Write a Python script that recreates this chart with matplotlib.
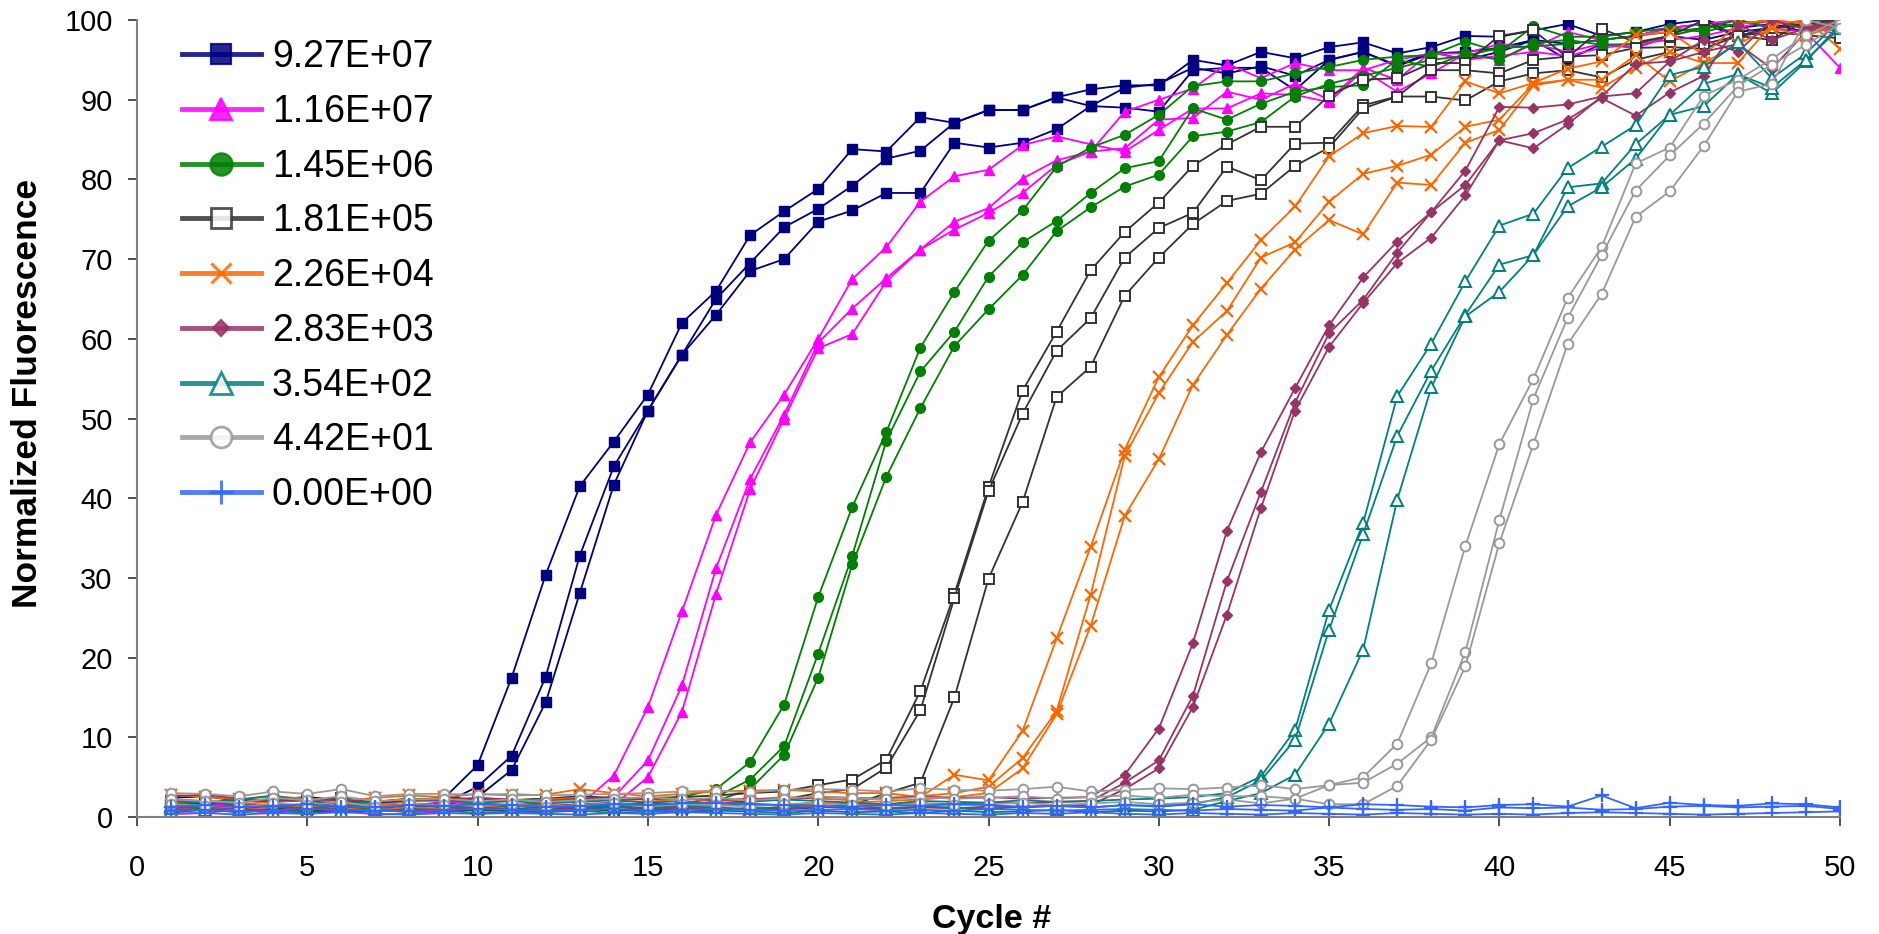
"""qPCR amplification curves, normalized fluorescence vs cycle (9 dilutions x 3 replicates)."""

import matplotlib
matplotlib.use("Agg")
import matplotlib.pyplot as plt
from matplotlib.lines import Line2D

plt.rcParams["font.family"] = ["Liberation Sans", "DejaVu Sans"]

cycles = list(range(1, 51))

labels = ["9.27E+07", "1.16E+07", "1.45E+06", "1.81E+05", "2.26E+04",
          "2.83E+03", "3.54E+02", "4.42E+01", "0.00E+00"]

# --- readings, one list per replicate (cycle 1..50) ---
navy_1 = [2.4, 2.6, 2.0, 2.2, 2.5, 2.1, 1.8, 2.0, 2.3,
          6.5, 17.5, 30.4, 41.5, 47.1, 53.0, 62.0, 66.0, 73.0, 76.0, 78.8, 83.8, 83.5, 87.8, 87.1,
          88.7, 88.7, 90.3, 91.3, 91.8, 91.8, 95.0, 94.3, 96.0, 95.2, 96.6, 97.2, 95.8, 96.6, 98.0,
          97.9, 98.7, 99.5, 98.0, 98.5, 99.5, 100.0, 99.0, 99.5, 98.5, 99.5]
navy_2 = [1.5, 1.8, 1.2, 1.6, 1.4, 1.9, 1.3, 1.5, 1.7,
          3.8, 7.7, 17.6, 32.8, 44.0, 51.0, 58.0, 65.0, 69.5, 74.0, 76.3, 79.2, 82.6, 83.6, 87.1,
          88.7, 88.7, 90.3, 89.2, 91.5, 92.0, 94.0, 93.3, 94.2, 93.0, 95.0, 96.0, 94.2, 95.8, 96.0,
          96.5, 97.5, 97.0, 97.5, 98.0, 99.0, 99.5, 98.0, 99.0, 99.5, 99.0]
navy_3 = [1.0, 1.2, 0.9, 1.1, 1.3, 1.0, 0.8, 1.2, 1.4,
          2.5, 5.9, 14.4, 28.1, 41.7, 51.0, 58.0, 63.0, 68.5, 70.0, 74.7, 76.1, 78.3, 78.3, 84.6,
          84.0, 84.6, 86.3, 89.2, 89.0, 88.5, 93.7, 94.0, 94.0, 91.2, 95.0, 96.0, 94.3, 96.0, 95.0,
          96.0, 97.5, 95.0, 97.0, 96.5, 98.0, 97.5, 98.5, 99.0, 100.0, 99.0]

pink_1 = [0.4, 0.5, 1.0, 0.4, 1.2, 0.9, 0.3, 0.4, 0.6, 1.0, 0.8, 0.5, 1.5,
          5.2, 13.8, 25.8, 37.9, 47.0, 53.0, 60.0, 67.5, 71.5, 77.2, 80.4, 81.2, 84.3, 85.4, 84.4,
          83.5, 86.2, 88.9, 88.9, 90.8, 90.6, 89.7, 93.7, 91.0, 93.3, 95.8, 95.0, 97.0, 96.0, 97.0,
          96.5, 98.0, 99.0, 100.0, 99.0, 98.5, 94.0]
pink_2 = [1.6, 1.4, 1.8, 1.2, 1.5, 1.3, 1.7, 1.4, 1.9, 1.6, 1.5, 1.8, 2.0,
          2.5, 7.1, 16.5, 31.2, 42.4, 50.5, 59.5, 63.8, 67.6, 71.2, 74.7, 76.4, 80.1, 82.4, 83.5,
          88.5, 90.0, 91.4, 94.5, 92.7, 94.6, 93.7, 93.7, 95.0, 95.8, 95.8, 97.0, 96.5, 98.5, 97.5,
          98.0, 99.0, 99.5, 100.0, 99.0, 99.5, 100.0]
pink_3 = [0.8, 1.0, 0.6, 0.9, 1.1, 0.7, 0.9, 1.0, 0.8, 1.2, 1.0, 0.9, 1.3,
          1.5, 5.0, 13.2, 28.0, 41.1, 50.0, 58.8, 60.6, 67.2, 71.2, 73.7, 75.8, 78.3, 81.8, 83.5,
          83.9, 87.5, 87.7, 91.0, 90.0, 92.0, 90.0, 94.0, 92.5, 96.0, 95.0, 95.5, 96.0, 95.5, 96.5,
          97.0, 97.5, 98.0, 99.0, 100.0, 99.5, 98.0]

green_1 = [2.2, 2.0, 1.8, 2.3, 2.1, 1.7, 1.9, 2.2, 2.0, 2.4, 2.1, 2.3, 2.0, 2.2, 2.4, 2.5,
           3.5, 6.9, 14.1, 27.6, 38.9, 48.3, 58.9, 65.9, 72.3, 76.1, 81.6, 84.0, 85.6, 88.1, 91.7,
           92.3, 92.3, 93.3, 94.1, 95.0, 95.4, 95.6, 97.3, 96.0, 99.2, 97.9, 97.9, 98.5, 99.0, 98.5,
           99.5, 100.0, 99.0, 99.5]
green_2 = [1.3, 1.5, 1.2, 1.4, 1.6, 1.3, 1.1, 1.4, 1.5, 1.2, 1.6, 1.4, 1.3, 1.5, 1.7, 1.6,
           2.5, 4.7, 8.9, 20.5, 32.8, 47.2, 55.9, 60.9, 67.8, 72.1, 74.8, 78.3, 81.4, 82.3, 88.9,
           87.5, 89.5, 91.0, 91.6, 91.8, 95.0, 94.1, 95.8, 95.0, 97.1, 97.5, 96.9, 97.0, 98.0, 99.0,
           100.0, 99.0, 99.5, 98.5]
green_3 = [0.9, 1.1, 0.8, 1.0, 0.7, 1.2, 0.9, 1.0, 0.8, 1.1, 0.9, 1.0, 1.2, 0.9, 1.1, 1.3,
           2.0, 3.5, 7.8, 17.5, 31.7, 42.7, 51.3, 59.1, 63.7, 68.0, 73.5, 76.5, 79.1, 80.6, 85.4,
           86.0, 87.2, 90.4, 92.0, 93.0, 94.0, 95.0, 95.5, 96.5, 96.7, 97.0, 97.5, 98.0, 98.5, 99.0,
           99.5, 100.0, 99.0, 99.0]

black_1 = [2.0, 1.7, 2.2, 1.9, 2.1, 2.4, 1.8, 2.0, 2.5, 2.2, 2.1, 2.3, 2.6, 2.4, 2.2, 2.5, 2.7,
           3.0, 3.2, 4.0, 4.7, 7.2, 15.8, 28.0, 41.4, 53.5, 60.9, 68.6, 73.4, 77.1, 81.7, 84.4,
           86.6, 86.6, 90.5, 92.5, 92.7, 94.6, 94.6, 98.0, 98.7, 95.3, 98.9, 97.2, 98.0, 100.0,
           98.0, 97.5, 100.0, 100.0]
black_2 = [1.2, 1.4, 1.0, 1.3, 1.5, 1.1, 1.3, 1.6, 1.2, 1.4, 1.3, 1.5, 1.2, 1.6, 1.4, 1.5, 1.7,
           2.0, 2.2, 3.0, 3.5, 6.2, 13.4, 27.5, 40.9, 50.6, 58.5, 62.6, 70.2, 73.9, 75.8, 81.6,
           79.9, 84.5, 84.6, 89.3, 90.4, 93.7, 93.7, 93.3, 95.0, 95.4, 95.6, 96.5, 96.6, 96.4,
           98.0, 98.5, 98.1, 97.7]
black_3 = [0.6, 0.9, 0.7, 1.0, 0.8, 0.6, 0.9, 0.7, 1.0, 0.8, 0.9, 0.7, 1.0, 0.8, 0.9, 1.0, 0.8,
           1.1, 1.0, 1.2, 1.5, 3.0, 4.3, 15.0, 29.9, 39.5, 52.7, 56.5, 65.4, 70.2, 74.4, 77.3,
           78.2, 81.7, 84.0, 88.9, 90.4, 90.4, 89.9, 92.3, 93.3, 93.7, 92.8, 95.0, 96.0, 97.0,
           98.0, 99.0, 99.5, 100.0]

orange_1 = [2.8, 2.5, 2.2, 2.6, 2.3, 2.0, 2.4, 2.7, 2.5, 2.9, 2.7, 2.8, 3.5, 3.0, 2.6, 2.9, 3.2,
            3.3, 3.4, 3.2, 3.0, 3.0, 2.5, 5.3, 4.6, 10.8, 22.4, 33.9, 46.1, 55.2, 61.7, 67.0,
            72.4, 76.6, 82.9, 85.8, 86.7, 86.6, 92.3, 90.8, 92.1, 93.9, 94.8, 98.1, 98.5, 95.6,
            99.5, 100.0, 99.5, 98.7]
orange_2 = [1.8, 2.0, 1.6, 1.9, 2.2, 1.7, 1.5, 1.9, 2.1, 1.8, 2.0, 2.2, 2.4, 2.1, 1.9, 2.3, 2.0,
            2.2, 2.5, 2.3, 2.1, 2.4, 2.6, 3.0, 3.8, 7.4, 13.3, 27.9, 45.3, 53.2, 59.6, 63.5,
            70.2, 72.1, 77.2, 80.7, 81.7, 83.1, 86.6, 87.5, 92.0, 92.5, 92.5, 95.6, 92.3, 94.6,
            94.6, 99.4, 100.0, 96.4]
orange_3 = [1.0, 1.3, 0.9, 1.2, 1.4, 1.1, 0.8, 1.2, 1.0, 1.3, 1.5, 1.1, 1.4, 1.2, 1.6, 1.3, 1.5,
            1.7, 1.4, 1.6, 1.8, 2.0, 2.2, 2.5, 3.0, 6.1, 12.9, 24.0, 37.8, 44.9, 54.2, 60.5,
            66.3, 71.2, 74.9, 73.1, 79.6, 79.3, 84.6, 86.2, 91.8, 92.5, 91.5, 94.0, 96.0, 94.6,
            97.0, 99.0, 98.0, 99.5]

maroon_1 = [2.6, 2.8, 2.3, 2.0, 2.2, 2.1, 1.9, 2.3, 2.1, 2.4, 2.2, 2.0, 2.3, 2.5, 2.2, 2.4, 2.1,
            2.3, 2.2, 2.5, 2.4, 2.3, 2.6, 2.4, 2.5, 2.3, 2.4, 2.5, 5.3, 11.1, 21.8, 35.9, 45.8,
            53.8, 61.7, 67.7, 72.2, 75.9, 81.1, 89.1, 89.0, 89.4, 90.4, 90.8, 94.8, 97.5, 96.0,
            100.0, 98.8, 99.8]
maroon_2 = [1.6, 1.9, 1.5, 1.3, 1.6, 1.4, 1.2, 1.5, 1.3, 1.7, 1.5, 1.4, 1.6, 1.8, 1.5, 1.7, 1.4,
            1.6, 1.5, 1.8, 1.6, 1.5, 1.7, 1.6, 1.8, 1.7, 1.9, 2.0, 4.3, 7.1, 15.2, 29.6, 40.8,
            52.0, 60.7, 64.9, 70.8, 75.9, 79.3, 84.9, 85.8, 87.5, 90.2, 88.0, 90.9, 93.0, 99.4,
            97.5, 99.0, 100.0]
maroon_3 = [1.1, 1.3, 1.0, 0.8, 1.1, 0.9, 0.7, 1.0, 0.9, 1.2, 1.0, 0.9, 1.1, 1.3, 1.0, 1.2, 0.9,
            1.1, 1.0, 1.3, 1.1, 1.0, 1.2, 1.1, 1.3, 1.2, 1.4, 1.5, 3.5, 6.1, 13.8, 25.4, 38.8,
            51.0, 59.0, 64.5, 69.5, 72.7, 78.0, 84.9, 83.9, 86.9, 90.4, 94.5, 94.8, 96.0, 97.0,
            93.9, 98.5, 99.5]

teal_1 = [2.0, 1.8, 2.2, 2.7, 2.0, 1.6, 1.9, 2.3, 2.1, 1.8, 2.0, 1.7, 1.9, 2.1, 1.8, 2.0, 1.7,
          1.9, 2.2, 2.0, 1.8, 1.6, 2.0, 1.9, 1.8, 2.1, 1.9, 2.0, 2.2, 2.3, 2.5, 3.0, 5.1, 10.9,
          26.0, 36.9, 52.8, 59.4, 67.2, 74.2, 75.7, 81.4, 84.1, 86.8, 93.1, 94.1, 97.2, 92.7,
          95.8, 100.0]
teal_2 = [1.4, 1.2, 1.5, 1.3, 1.1, 1.4, 1.2, 1.5, 1.3, 1.1, 1.0, 1.3, 1.2, 1.4, 1.1, 1.3, 1.2,
          1.0, 1.3, 1.2, 1.4, 1.1, 1.3, 1.2, 1.0, 1.3, 1.4, 1.2, 1.5, 1.3, 1.6, 2.5, 4.6, 9.7,
          23.5, 35.5, 47.8, 56.0, 63.0, 69.3, 70.5, 79.0, 79.5, 84.4, 88.1, 92.0, 93.2, 90.8,
          94.8, 99.5]
teal_3 = [0.7, 0.9, 0.6, 0.8, 0.5, 0.7, 0.9, 0.6, 0.8, 0.5, 0.7, 0.6, 0.8, 0.5, 0.7, 0.6, 0.8,
          0.7, 0.5, 0.8, 0.6, 0.7, 0.5, 0.8, 0.6, 0.7, 0.9, 0.6, 0.8, 0.7, 0.9, 2.0, 3.0, 5.3,
          11.7, 21.0, 39.8, 53.9, 62.8, 65.9, 70.5, 76.6, 79.0, 82.6, 88.1, 89.2, 93.2, 91.5,
          95.0, 99.0]

grey_1 = [3.0, 2.9, 2.6, 3.2, 2.9, 3.5, 2.6, 2.9, 2.9, 2.8, 2.9, 2.7, 2.8, 2.9, 3.0, 3.2, 3.3,
          3.1, 3.4, 3.5, 3.4, 3.2, 3.6, 3.4, 3.3, 3.5, 3.8, 3.2, 3.4, 3.6, 3.5, 3.7, 4.0, 3.5,
          4.0, 5.0, 9.2, 19.3, 34.0, 46.8, 55.0, 65.1, 71.5, 82.0, 84.0, 90.5, 92.5, 95.1,
          98.1, 100.0]
grey_2 = [2.2, 2.0, 1.8, 2.4, 2.1, 2.6, 2.0, 2.2, 2.3, 2.0, 2.2, 1.9, 2.1, 2.3, 2.5, 2.2, 2.4,
          2.1, 2.3, 2.6, 2.4, 2.2, 2.5, 2.3, 2.4, 2.6, 2.3, 2.5, 2.7, 2.4, 2.8, 2.6, 2.6, 2.3,
          4.0, 4.3, 6.7, 10.0, 20.7, 37.3, 52.5, 62.6, 70.5, 78.6, 83.0, 87.0, 91.7, 94.4,
          96.9, 99.5]
grey_3 = [1.6, 1.4, 1.2, 1.7, 1.5, 1.9, 1.3, 1.6, 1.5, 1.4, 1.6, 1.3, 1.5, 1.7, 1.4, 1.6, 1.5,
          1.3, 1.6, 1.8, 1.5, 1.4, 1.7, 1.5, 1.6, 1.8, 1.5, 1.7, 1.9, 1.6, 1.8, 2.2, 1.7, 2.3,
          1.6, 1.6, 3.9, 9.7, 18.9, 34.4, 46.8, 59.3, 65.6, 75.3, 78.5, 84.2, 91.0, 92.0,
          100.0, 99.0]

blue_1 = [1.3, 1.5, 1.2, 1.4, 1.6, 1.3, 1.2, 1.5, 1.4, 1.6, 1.5, 1.3, 1.4, 1.6, 1.5, 1.7, 1.8,
          1.6, 1.5, 1.4, 1.3, 1.5, 1.4, 1.6, 1.5, 1.3, 1.4, 1.2, 1.5, 1.4, 1.6, 1.3, 1.5, 1.4,
          1.2, 1.6, 1.5, 1.3, 1.2, 1.5, 1.6, 1.3, 2.7, 1.1, 1.8, 1.5, 1.4, 1.7, 1.6, 1.2]
blue_2 = [0.8, 0.9, 0.7, 0.8, 1.0, 0.9, 0.8, 0.7, 0.9, 1.0, 0.9, 0.8, 0.9, 1.0, 0.8, 0.9, 1.0,
          0.9, 0.8, 0.9, 1.0, 0.8, 0.9, 0.8, 1.0, 0.9, 0.8, 0.9, 1.0, 0.9, 0.8, 1.0, 0.9, 0.8,
          1.2, 1.0, 0.9, 1.0, 0.8, 1.2, 1.1, 1.2, 0.9, 1.0, 1.3, 1.4, 1.2, 1.3, 1.4, 1.0]
blue_3 = [0.4, 0.5, 0.3, 0.5, 0.4, 0.6, 0.4, 0.3, 0.5, 0.4, 0.5, 0.4, 0.3, 0.5, 0.4, 0.6, 0.5,
          0.4, 0.3, 0.5, 0.4, 0.3, 0.5, 0.4, 0.3, 0.5, 0.4, 0.6, 0.4, 0.3, 0.5, 0.4, 0.3, 0.5,
          0.4, 0.3, 0.5, 0.4, 0.3, 0.4, 0.3, 0.5, 0.6, 0.5, 0.4, 0.3, 0.4, 0.5, 0.6, 0.7]

replicates = [
    [navy_1, navy_2, navy_3],
    [pink_1, pink_2, pink_3],
    [green_1, green_2, green_3],
    [black_1, black_2, black_3],
    [orange_1, orange_2, orange_3],
    [maroon_1, maroon_2, maroon_3],
    [teal_1, teal_2, teal_3],
    [grey_1, grey_2, grey_3],
    [blue_1, blue_2, blue_3],
]
for grp in replicates:
    for r in grp:
        assert len(r) == len(cycles), len(r)

# colour, marker, face, marker size (plot), marker size (legend), edge width
styles = [
    ("#000080", "s", None, 6.5, 15, 1.0),
    ("#FF00FF", "^", None, 7.5, 16, 1.0),
    ("#008000", "o", None, 7.0, 16, 1.0),
    ("#333333", "s", "white", 6.5, 15, 1.4),
    ("#FF6600", "x", None, 8.0, 15, 1.6),
    ("#993366", "D", None, 5.5, 8, 1.0),
    ("#008080", "^", "white", 8.0, 16, 1.4),
    ("#999999", "o", "white", 7.0, 15, 1.4),
    ("#3366FF", "+", None, 10.0, 17, 1.6),
]

fig = plt.figure(figsize=(18.79, 9.34), dpi=100)
ax = fig.add_axes([137 / 1879, 1 - 817 / 934, 1703 / 1879, 797 / 934])

handles = []
for (col, mk, face, ms, ms_leg, mew), grp, lab in zip(styles, replicates, labels):
    fc = face if face else col
    for r in grp:
        ax.plot(cycles, r, color=col, lw=1.3, marker=mk, ms=ms, mfc=fc, mec=col,
                mew=mew, zorder=2)
    handles.append(Line2D([], [], color=col, lw=3.5, alpha=0.85, marker=mk, ms=ms_leg,
                          mfc=fc, mec=col, mew=mew + 0.6, label=lab))

ax.set_xlim(0, 50)
ax.set_ylim(0, 100)
ax.set_xticks(range(0, 51, 5))
ax.set_yticks(range(0, 101, 10))
ax.tick_params(axis="both", direction="out", length=6.5, width=1.2, color="#333333",
               labelsize=21)
ax.tick_params(axis="x", pad=20)
ax.tick_params(axis="y", pad=11)
for side in ("top", "right"):
    ax.spines[side].set_visible(False)
for side in ("left", "bottom"):
    ax.spines[side].set_color("#7f7f7f")
    ax.spines[side].set_linewidth(1.5)

ax.set_ylabel("Normalized Fluorescence", fontsize=25.5, fontweight="bold", va="center")
ax.yaxis.set_label_coords(-0.0645, 0.531)
ax.set_xlabel("Cycle #", fontsize=24.5, fontweight="bold", va="center")
ax.xaxis.set_label_coords(0.502, -0.129)

leg = ax.legend(handles=handles, loc="upper left", bbox_to_anchor=(0.0264, 0.976),
                frameon=False, fontsize=27, handlelength=2.1, handletextpad=0.3,
                labelspacing=0.5, borderpad=0, borderaxespad=0)
leg.set_zorder(5)

fig.savefig("out.png", dpi=100)
